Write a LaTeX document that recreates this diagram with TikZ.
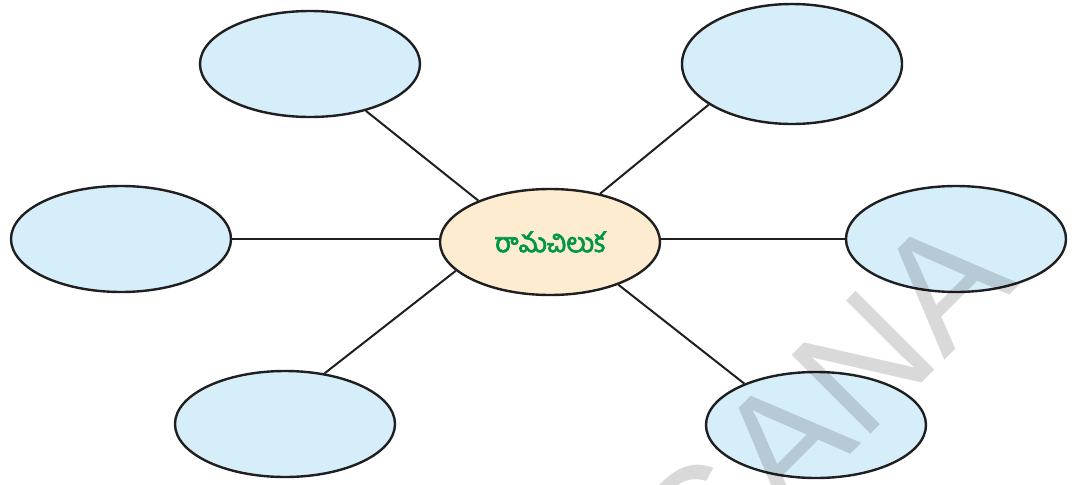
\documentclass[tikz,border=0pt]{standalone}
\usepackage{fontspec}
\usetikzlibrary{shapes.geometric}
\newfontfamily\telugufont[Script=Telugu,FakeBold=2.5]{Hind Guntur}
\newfontfamily\markfont{Liberation Sans}
\definecolor{bubbleblue}{RGB}{214,237,250}
\definecolor{bubblepeach}{RGB}{253,236,208}
\definecolor{wordgreen}{RGB}{0,150,72}
\definecolor{markgray}{RGB}{216,216,216}
\tikzset{
  bubble/.style={ellipse, draw=black!88, line width=2.4pt, fill=bubbleblue,
    inner sep=0pt, minimum width=220pt, minimum height=106pt},
  hub/.style={bubble, fill=bubblepeach, font=\telugufont\fontsize{27}{27}\selectfont,
    text=wordgreen},
  link/.style={draw=black!88, line width=2pt}
}
\begin{document}
\begin{tikzpicture}[x=1pt,y=-1pt]
      \useasboundingbox (0,0) rectangle (1080,485);
      \node[hub] (hub) at (550,242) {రామచిలుక};
      \node[bubble] (topleft) at (310,64) {};
      \node[bubble] (left) at (121,239) {};
      \node[bubble] (botleft) at (285,424) {};
      \node[bubble, minimum height=120pt] (topright) at (792,64) {};
      \node[bubble] (right) at (956,239) {};
      \node[bubble] (botright) at (816,425) {};
      \begin{scope}[link]
        \draw (hub.150) to (topleft.320);
        \draw (left.east) to (left.east -| hub.west);
        \draw (hub.197) to (botleft.52);
        \draw (hub.44) to (topright.206);
        \draw (right.west -| hub.east) to (right.west);
        \draw (hub.328) to (botright.150);
      \end{scope}
      % watermark
      \begin{scope}
        \clip (0,0) rectangle (1080,485);
        \node[anchor=base east, rotate=45, inner sep=0pt, text=black, opacity=0.15,
          font=\markfont\fontsize{162}{162}\selectfont] (mark) at (1021,284) {TELANGANA};
      \end{scope}
    \end{tikzpicture}
\end{document}
